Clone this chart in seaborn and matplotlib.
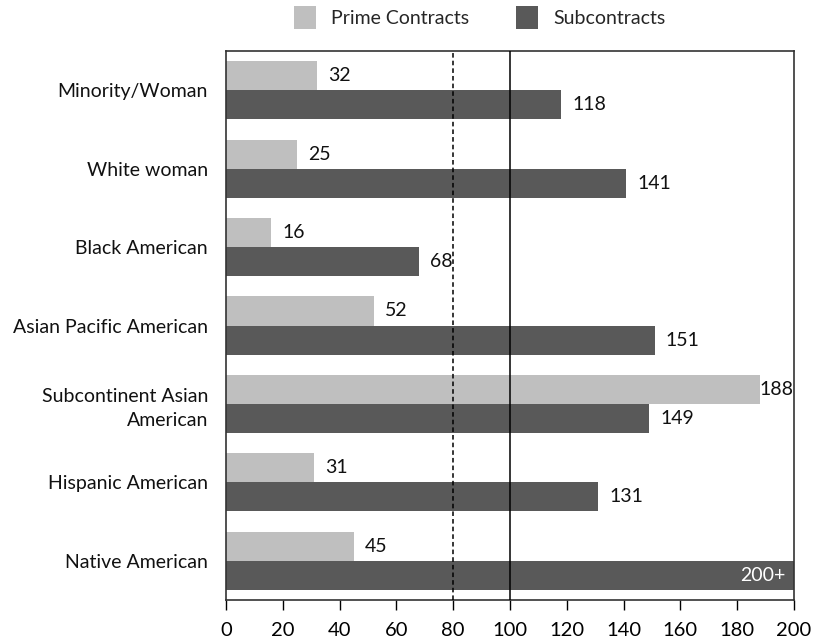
import matplotlib
matplotlib.use("Agg")
import matplotlib.pyplot as plt
import seaborn as sns
import pandas as pd

categories = ["Minority/Woman", "White woman", "Black American", "Asian Pacific American",
              "Subcontinent Asian\nAmerican", "Hispanic American", "Native American"]
prime_values = [32, 25, 16, 52, 188, 31, 45]
sub_values = [118, 141, 68, 151, 149, 131, 200]
sub_labels = ["118", "141", "68", "151", "149", "131", "200+"]
prime_labels = [str(v) for v in prime_values]
series = ["Prime Contracts", "Subcontracts"]
x_ticks = [0, 20, 40, 60, 80, 100, 120, 140, 160, 180, 200]

sns.set_theme(style="white")
plt.rcParams["font.family"] = ["Lato", "DejaVu Sans"]

df = pd.DataFrame({
    "category": categories * 2,
    "value": prime_values + sub_values,
    "series": [series[0]] * len(categories) + [series[1]] * len(categories),
})

fig = plt.figure(figsize=(8.19, 6.43), dpi=100)
ax = fig.add_axes([226 / 819, 1 - 600 / 643, (794 - 226) / 819, (600 - 51) / 643])

palette = {series[0]: "#BFBFBF", series[1]: "#595959"}
sns.barplot(data=df, y="category", x="value", hue="series", orient="h",
            palette=palette, width=0.74, gap=0, saturation=1, ax=ax,
            edgecolor="none", linewidth=0, legend=False)

ax.set_xlim(0, 200)
ax.set_xticks(x_ticks)
ax.set_xticklabels([str(t) for t in x_ticks], fontsize=14.5, color="#000000")
ax.tick_params(axis="x", direction="out", length=7, width=1, color="#000000", pad=9,
               bottom=True)
ax.tick_params(axis="y", length=0, pad=13, labelsize=14)
for lbl in ax.get_yticklabels():
    lbl.set_color("#111111")
    lbl.set_horizontalalignment("right")
    lbl.set_linespacing(1.5)
ax.set_xlabel("")
ax.set_ylabel("")

for s in ax.spines.values():
    s.set_visible(True)
    s.set_color("#333333")
    s.set_linewidth(1.2)

# reference lines at 80 (dashed) and 100 (solid)
ax.axvline(80, color="#000000", linestyle=(0, (3, 2)), linewidth=1.1, zorder=5)
ax.axvline(100, color="#000000", linestyle="-", linewidth=1.1, zorder=5)

prime_bars, sub_bars = ax.containers[0], ax.containers[1]
for bar, val, txt in zip(prime_bars, prime_values, prime_labels):
    pad = 0 if val > 180 else 8
    ax.annotate(txt, (bar.get_x() + bar.get_width(), bar.get_y() + bar.get_height() / 2),
                xytext=(pad, 0), textcoords="offset points", va="center", ha="left",
                fontsize=14, color="#111111", zorder=6)
for bar, val, txt in zip(sub_bars, sub_values, sub_labels):
    end = bar.get_x() + bar.get_width()
    y = bar.get_y() + bar.get_height() / 2
    if val >= 200:
        ax.annotate(txt, (end, y), xytext=(-6, 0), textcoords="offset points",
                    va="center", ha="right", fontsize=14, color="white", zorder=6)
    else:
        ax.annotate(txt, (end, y), xytext=(8, 0), textcoords="offset points",
                    va="center", ha="left", fontsize=14, color="#111111", zorder=6)

handles = [plt.Rectangle((0, 0), 1, 1, facecolor=palette[s], edgecolor="none") for s in series]
fig.legend(handles, series, loc="center", bbox_to_anchor=(0.586, 0.973), ncol=2,
           frameon=False, fontsize=14, handlelength=1.1, handleheight=1.4,
           columnspacing=2.4, handletextpad=0.8)

fig.savefig("out.png", dpi=100)
